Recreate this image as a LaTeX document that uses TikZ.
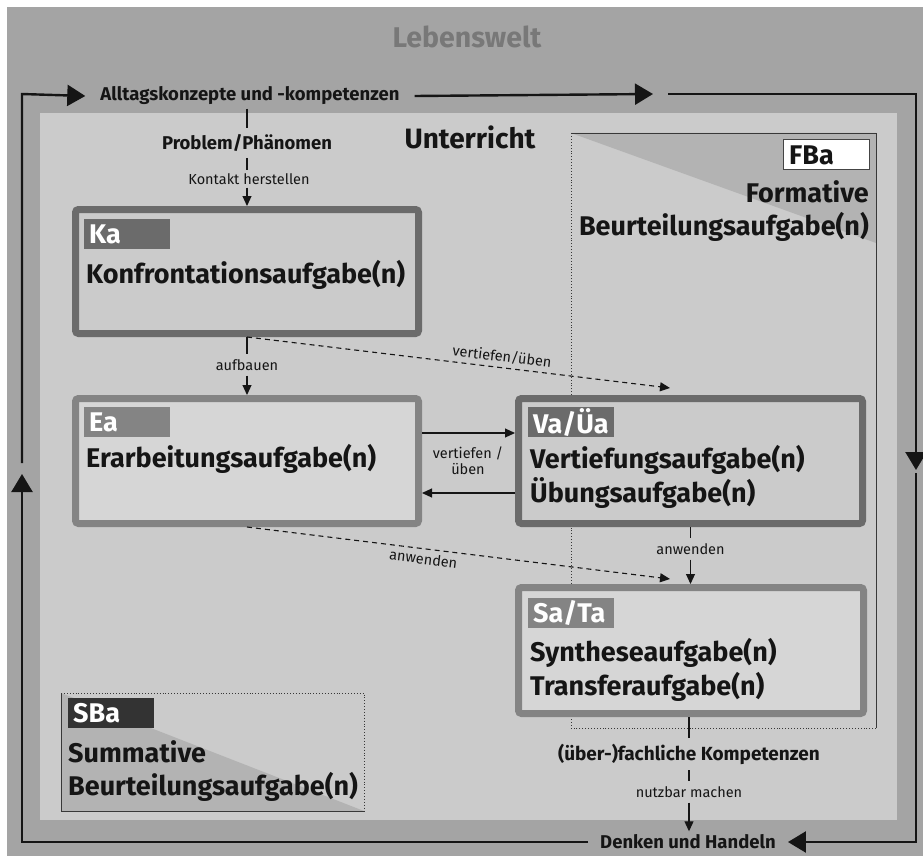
\documentclass[tikz,border=0pt]{standalone}
\usepackage{fontspec}
\setmainfont{Fira Sans}
\usetikzlibrary{arrows.meta}

\definecolor{worldgray}{HTML}{A4A4A4}
\definecolor{classgray}{HTML}{CBCBCB}
\definecolor{darkframe}{HTML}{6B6B6B}
\definecolor{lightframe}{HTML}{848484}
\definecolor{lightfill}{HTML}{D6D6D6}
\definecolor{wedge}{HTML}{B3B3B3}
\definecolor{sbtag}{HTML}{333333}
\definecolor{worldtext}{HTML}{787878}
\definecolor{ink}{HTML}{151515}

\newcommand\fbig{\fontsize{27}{31}\selectfont\bfseries}
\newcommand\fhead{\fontsize{18.5}{22}\selectfont\bfseries}
\newcommand\fsmall{\fontsize{14.5}{17}\selectfont}

\begin{document}
\begin{tikzpicture}[x=1pt,y=-1pt,
  every node/.style={text=ink},
  darkbox/.style={draw=darkframe, fill=classgray, line width=7pt, rounded corners=3pt, inner sep=0pt},
  lightbox/.style={draw=lightframe, fill=lightfill, line width=7pt, rounded corners=3pt, inner sep=0pt},
  tagbox/.style={anchor=north west, minimum height=30pt, text width=76pt, inner xsep=5pt, inner ysep=0pt, align=left, font=\fbig, text=white},
  boxtext/.style={anchor=base west, inner sep=0pt, font=\fbig},
  smalllabel/.style={font=\fsmall, inner sep=3pt},
  headlabel/.style={font=\fhead},
  thinline/.style={draw=ink, line width=1.1pt},
  thinarrow/.style={thinline, -{Triangle[length=10pt,width=9pt]}},
  dasharrow/.style={thinarrow, dash pattern=on 5pt off 4pt},
  frameedge/.style={draw=ink!85, line width=0.9pt},
  framedots/.style={draw=ink!85, line width=0.9pt, dotted},
  loopline/.style={draw=ink, line width=2.4pt, -{Triangle[length=18pt,width=21pt]}}
]
\useasboundingbox (0,0) rectangle (923,856);
\fill[white] (0,0) rectangle (923,856);

% outer world and classroom areas
\fill[worldgray] (7,7) rectangle (923,856);
\fill[classgray] (40,113) rectangle (897,820);
\node[font=\fontsize{28.5}{32}\selectfont\bfseries, text=worldtext] (world) at (467,37) {Lebenswelt};
\node[font=\fontsize{28}{32}\selectfont\bfseries] (unterricht) at (470,137) {Unterricht};

% formative assessment frame
\fill[wedge] (571,133) -- (876,133) -- (876,243) -- cycle;
\draw[frameedge] (571,133) -- (876,133) -- (876,728);
\draw[framedots] (876,728) -- (571,728) -- (571,133);
\node[draw=ink!80, line width=0.8pt, fill=white, minimum width=86pt, minimum height=30pt, anchor=north west, inner sep=0pt] (fbtag) at (783,139) {};
\node[boxtext] (fbtagtext) at (789,164) {FBa};
\node[boxtext, anchor=base east] (fbtitle1) at (869,202) {Formative};
\node[boxtext, anchor=base east] (fbtitle2) at (869,235) {Beurteilungsaufgabe(n)};

% summative assessment frame
\fill[wedge] (61,693) -- (364,811) -- (61,811) -- cycle;
\draw[frameedge] (61,693) -- (61,811) -- (364,811);
\draw[framedots] (61,693) -- (364,693) -- (364,811);
\node[tagbox, fill=sbtag] (sbtag) at (68,698) {SBa};
\node[boxtext] (sbtitle1) at (68,762) {Summative};
\node[boxtext] (sbtitle2) at (68,795) {Beurteilungsaufgabe(n)};

% task boxes
\node[darkbox, minimum width=343pt, minimum height=124pt] (ka) at (247,271.5) {};
\node[lightbox, minimum width=343pt, minimum height=125pt] (ea) at (247,461) {};
\node[darkbox, minimum width=344pt, minimum height=125pt] (va) at (690.5,461) {};
\node[lightbox, minimum width=345pt, minimum height=126pt] (sa) at (691,650.5) {};

\node[tagbox, fill=darkframe] (katag) at (84,219) {Ka};
\node[boxtext] (katext) at (86,283) {Konfrontationsaufgabe(n)};
\node[tagbox, fill=lightframe] (eatag) at (84,407) {Ea};
\node[boxtext] (eatext) at (86,467) {Erarbeitungsaufgabe(n)};
\node[tagbox, fill=darkframe] (vatag) at (528,407) {Va/Üa};
\node[boxtext] (vatext1) at (530,468) {Vertiefungsaufgabe(n)};
\node[boxtext] (vatext2) at (530,502) {Übungsaufgabe(n)};
\node[tagbox, fill=lightframe] (satag) at (528,598) {Sa/Ta};
\node[boxtext] (satext1) at (530,661) {Syntheseaufgabe(n)};
\node[boxtext] (satext2) at (530,695) {Transferaufgabe(n)};

% cycle between everyday life and classroom
\node[headlabel, inner xsep=15pt] (alltag) at (250,96) {Alltagskonzepte und -kompetenzen};
\node[headlabel, inner xsep=12pt] (denken) at (688,842) {Denken und Handeln};
\coordinate (bl) at (22,842);
\coordinate (leftmid) at (22,474);
\coordinate (leftup) at (22,463);
\coordinate (tl) at (22,94);
\coordinate (topmid) at (653,94);
\coordinate (topnext) at (668,94);
\coordinate (tr) at (916,94);
\coordinate (rightmid) at (916,470);
\coordinate (rightnext) at (916,473);
\coordinate (br) at (916,842);
\draw[loopline] (denken.west) -- (bl) -- (leftmid);
\draw[loopline] (leftup) -- (tl) -- (alltag.west);
\draw[loopline] (alltag.east) -- (topmid);
\draw[loopline] (topnext) -- (tr) -- (rightmid);
\draw[loopline] (rightnext) -- (br) -- (denken.east);

% entry into the lesson
\node[headlabel, inner sep=6pt] (problem) at (247,143) {Problem/Phänomen};
\node[smalllabel] (kontakt) at (249,179) {Kontakt herstellen};
\draw[thinline] (problem.north |- alltag.south) -- (problem.north);
\draw[thinline] (problem.south) -- (kontakt.north -| problem.south);
\draw[thinarrow] (kontakt.south -| ka.north) -- (ka.north);

% links between the tasks
\node[smalllabel, inner sep=5pt] (aufbau) at (247,365) {aufbauen};
\draw[thinline] (ka.south) -- (aufbau.north);
\draw[thinarrow] (aufbau.south) -- (ea.north);

\coordinate (vatip) at (670,388);
\draw[dasharrow] (ka.south) -- node[pos=0.6, sloped, above, font=\fsmall, inner sep=4pt] (vueben) {vertiefen/üben} (vatip);

\coordinate (satip) at (670,579);
\draw[dasharrow] (ea.south) -- node[pos=0.42, sloped, below, font=\fsmall, inner sep=4pt] (eanw) {anwenden} (satip);

\node[smalllabel, align=center] (vertueben) at (468,461) {vertiefen /\\[-1pt]üben};
\draw[thinarrow] ([yshift=28pt]ea.east) -- ([yshift=28pt]va.west);
\draw[thinarrow] ([yshift=-32pt]va.west) -- ([yshift=-32pt]ea.east);

\node[smalllabel, inner sep=5pt] (vaanw) at (690.5,549) {anwenden};
\draw[thinline] (va.south) -- (vaanw.north);
\draw[thinarrow] (vaanw.south) -- (sa.north -| vaanw.south);

% outcome back into everyday life
\node[font=\fontsize{19}{22}\selectfont\bfseries, inner sep=6pt] (komp) at (689,754) {(über-)fachliche Kompetenzen};
\node[smalllabel, inner sep=5pt] (nutzbar) at (689,792) {nutzbar machen};
\draw[thinline] (sa.south -| komp.north) -- (komp.north);
\draw[thinline] (komp.south) -- (nutzbar.north);
\draw[thinarrow] (nutzbar.south) -- (denken.north -| nutzbar.south);
\end{tikzpicture}
\end{document}
